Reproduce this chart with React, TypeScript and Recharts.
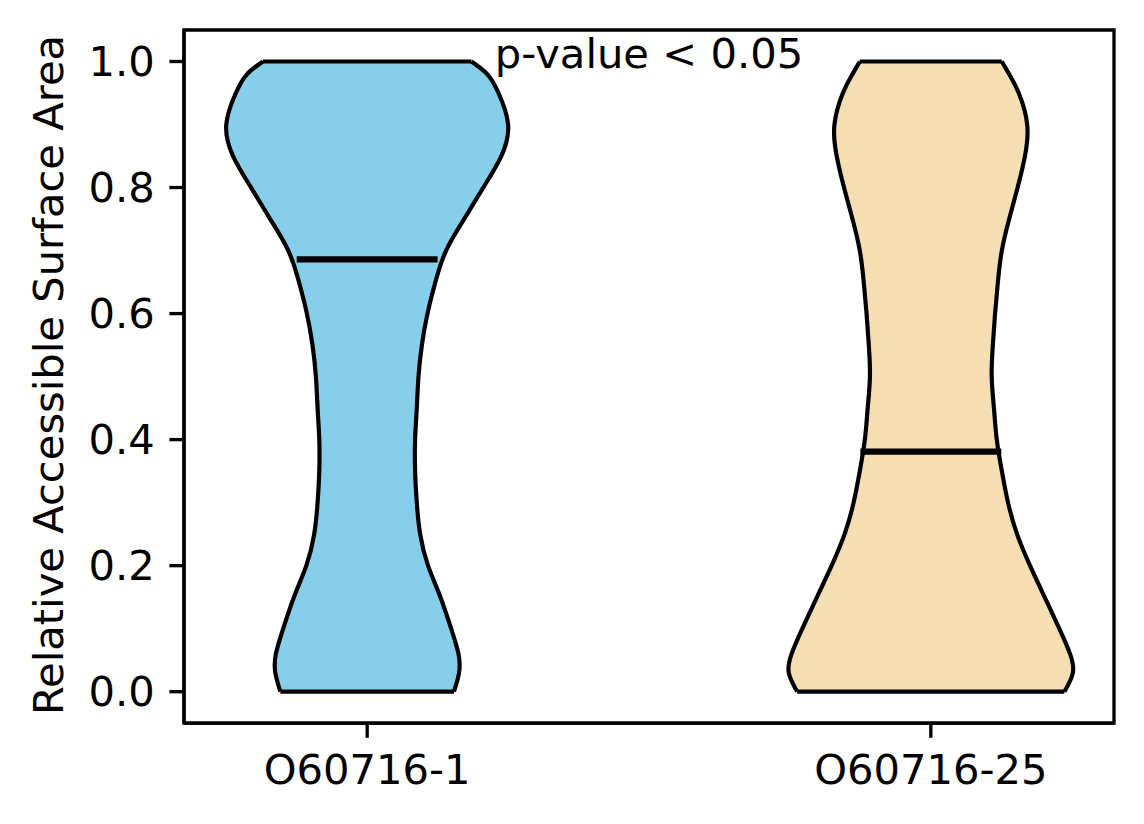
import React from "react";
import {
  Area,
  ComposedChart,
  ReferenceArea,
  ReferenceDot,
  ReferenceLine,
  XAxis,
  YAxis,
} from "recharts";

// violin categories and their x positions
const categories = ["O60716-1", "O60716-25"];
const positions = [1, 2];

// relative ASA levels at which the violin outline was read
const levels = [
  0, 0.03, 0.06, 0.1, 0.15, 0.2, 0.25, 0.3, 0.35, 0.4, 0.45, 0.5, 0.55, 0.6,
  0.65, 0.7, 0.75, 0.8, 0.85, 0.9, 0.95, 0.98, 1.0,
];

// half widths of each violin (x data units) at the levels above
const halfWidth1 = [
  0.154, 0.163, 0.162, 0.149, 0.13, 0.108, 0.094, 0.088, 0.085, 0.085, 0.088,
  0.091, 0.097, 0.107, 0.121, 0.14, 0.172, 0.206, 0.238, 0.25, 0.233, 0.213,
  0.185,
];
const halfWidth2 = [
  0.237, 0.252, 0.247, 0.228, 0.202, 0.176, 0.153, 0.137, 0.126, 0.117, 0.112,
  0.108, 0.11, 0.114, 0.119, 0.126, 0.139, 0.154, 0.167, 0.171, 0.156, 0.139,
  0.126,
];

const medians = [0.686, 0.381];
const medianHalf = 0.125;

const yTicks = [0, 0.2, 0.4, 0.6, 0.8, 1.0];
const annotation = { x: 1.5, y: 0.99, text: "p-value < 0.05" };

const colors = ["#87CEEB", "#F5DEB3"];
const FONT = "'DejaVu Sans', sans-serif";
const FS = 41.67;

const rows = levels.map((y, i) => ({
  y,
  v1: [positions[0] - halfWidth1[i], positions[0] + halfWidth1[i]],
  v2: [positions[1] - halfWidth2[i], positions[1] + halfWidth2[i]],
}));

const widths = [halfWidth1, halfWidth2];

export default function App() {
  return (
    <div style={{ position: "absolute", left: 0, top: 0, background: "#fff" }}>
      <ComposedChart
        width={1144}
        height={824}
        data={rows}
        layout="vertical"
        margin={{ top: 30, right: 30, bottom: 0, left: 64 }}
      >
        <XAxis
          type="number"
          domain={[0.675, 2.325]}
          ticks={positions}
          allowDataOverflow
          tickFormatter={(v) => categories[positions.indexOf(v)] ?? ""}
          height={100.8}
          tickSize={14.6}
          tickMargin={17}
          axisLine={{ stroke: "#000", strokeWidth: 3.33 }}
          tickLine={{ stroke: "#000", strokeWidth: 3.33 }}
          tick={{ fill: "#000", fontSize: FS, fontFamily: FONT }}
        />
        <YAxis
          type="number"
          dataKey="y"
          domain={[-0.05, 1.05]}
          ticks={yTicks}
          allowDataOverflow
          reversed
          width={120}
          tickFormatter={(v) => v.toFixed(1)}
          tickSize={14.6}
          tickMargin={14.6}
          axisLine={{ stroke: "#000", strokeWidth: 3.33 }}
          tickLine={{ stroke: "#000", strokeWidth: 3.33 }}
          tick={{ fill: "#000", fontSize: FS, fontFamily: FONT }}
          label={{
            content: () => (
              <text
                x={63}
                y={375}
                transform="rotate(-90 63 375)"
                textAnchor="middle"
                fill="#000"
                fontSize={FS}
                fontFamily={FONT}
              >
                Relative Accessible Surface Area
              </text>
            ),
          }}
        />
        <ReferenceArea
          x1={0.675}
          x2={2.325}
          y1={-0.05}
          y2={1.05}
          fill="none"
          stroke="#000"
          strokeWidth={3.33}
          ifOverflow="visible"
        />
        <Area
          dataKey="v1"
          type="natural"
          fill={colors[0]}
          fillOpacity={1}
          stroke="#000"
          strokeWidth={4.17}
          isAnimationActive={false}
          activeDot={false}
        />
        <Area
          dataKey="v2"
          type="natural"
          fill={colors[1]}
          fillOpacity={1}
          stroke="#000"
          strokeWidth={4.17}
          isAnimationActive={false}
          activeDot={false}
        />
        {positions.map((p, i) =>
          [0, levels.length - 1].map((j) => (
            <ReferenceLine
              key={`cap-${i}-${j}`}
              segment={[
                { x: p - widths[i][j], y: levels[j] },
                { x: p + widths[i][j], y: levels[j] },
              ]}
              stroke="#000"
              strokeWidth={4.17}
            />
          ))
        )}
        {positions.map((p, i) => (
          <ReferenceLine
            key={`med-${i}`}
            segment={[
              { x: p - medianHalf, y: medians[i] },
              { x: p + medianHalf, y: medians[i] },
            ]}
            stroke="#000"
            strokeWidth={6.25}
          />
        ))}
        <ReferenceDot
          x={annotation.x}
          y={annotation.y}
          r={0}
          shape={(props: any) => (
            <text
              x={props.cx}
              y={props.cy}
              textAnchor="middle"
              fill="#000"
              fontSize={FS}
              fontFamily={FONT}
            >
              {annotation.text}
            </text>
          )}
        />
      </ComposedChart>
    </div>
  );
}
